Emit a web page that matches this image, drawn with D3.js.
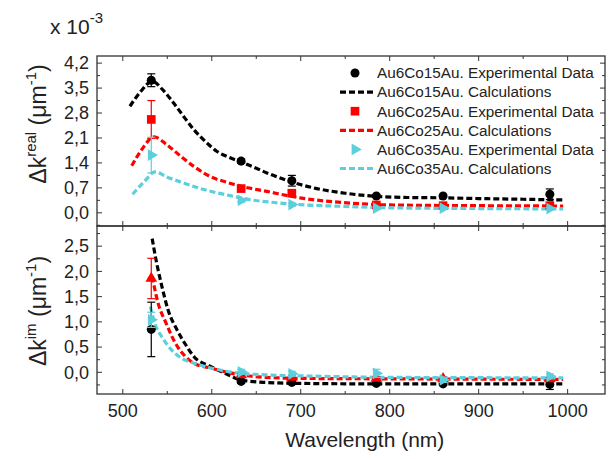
<!DOCTYPE html>
<html>
<head>
<meta charset="utf-8">
<script src="https://cdn.jsdelivr.net/npm/d3@7"></script>
<style>
  body { margin: 0; background: #fff; }
  svg text { font-family: "Liberation Sans", Arial, sans-serif; fill: #222; }
</style>
</head>
<body>
<div id="chart"></div>
<script>
// wavelengths of the measured points (nm)
const wlExp = [532, 633, 690, 785, 860, 980];

const names = ["Au6Co15Au", "Au6Co25Au", "Au6Co35Au"];
const colors = ["#000000", "#ff0000", "#5ccfdc"];

// top panel: delta k real (x 10^-3)
const realExp15 = [3.72, 1.45, 0.90, 0.47, 0.47, 0.52];
const realErr15 = [0.18, 0.06, 0.15, 0.04, 0.04, 0.15];
const realExp25 = [2.62, 0.68, 0.55, 0.22, 0.20, 0.20];
const realErr25 = [0.53, 0.05, 0.08, 0.03, 0.03, 0.03];
const realExp35 = [1.62, 0.35, 0.23, 0.13, 0.13, 0.12];
const realErr35 = [0.50, 0.05, 0.04, 0.03, 0.03, 0.03];

const realCalcWl15 = [508, 520, 533, 545, 555, 570, 580, 595, 606, 620, 633, 650, 662, 688, 718, 750, 785, 820, 860, 900, 950, 995];
const realCalc15   = [2.99, 3.40, 3.69, 3.45, 3.15, 2.65, 2.33, 1.95, 1.72, 1.55, 1.43, 1.25, 1.12, 0.88, 0.68, 0.55, 0.46, 0.43, 0.42, 0.40, 0.38, 0.36];
const realCalcWl25 = [510, 522, 535, 550, 565, 580, 598, 615, 632, 662, 699, 752, 800, 900, 995];
const realCalc25   = [1.32, 1.80, 2.13, 1.90, 1.59, 1.30, 1.02, 0.87, 0.75, 0.60, 0.42, 0.28, 0.22, 0.20, 0.19];
const realCalcWl35 = [511, 525, 536, 550, 568, 590, 606, 625, 643, 670, 699, 750, 800, 900, 995];
const realCalc35   = [0.52, 0.90, 1.15, 1.00, 0.84, 0.66, 0.56, 0.46, 0.37, 0.29, 0.23, 0.18, 0.14, 0.12, 0.11];

// bottom panel: delta k imaginary
const imExp15 = [0.85, -0.18, -0.20, -0.22, -0.23, -0.24];
const imErr15 = [0.54, 0.04, 0.03, 0.03, 0.03, 0.10];
const imExp25 = [1.86, -0.05, -0.10, -0.12, -0.13, -0.13];
const imErr25 = [0.40, 0.03, 0.03, 0.03, 0.03, 0.03];
const imExp35 = [1.04, 0.01, -0.03, -0.02, -0.15, -0.08];
const imErr35 = [0.15, 0.05, 0.05, 0.08, 0.05, 0.05];

const imCalcWl15 = [533, 538, 544, 551, 561, 572, 580, 598, 615, 632, 660, 700, 800, 995];
const imCalc15   = [2.65, 2.17, 1.70, 1.23, 0.84, 0.51, 0.31, 0.12, -0.02, -0.15, -0.20, -0.22, -0.23, -0.23];
const imCalcWl25 = [533, 540, 548, 560, 570, 581, 600, 615, 632, 660, 700, 800, 995];
const imCalc25   = [1.90, 1.35, 1.00, 0.55, 0.32, 0.17, 0.08, 0.01, -0.05, -0.10, -0.12, -0.13, -0.14];
const imCalcWl35 = [531, 536, 544, 555, 566, 580, 600, 632, 660, 700, 800, 995];
const imCalc35   = [1.30, 0.97, 0.70, 0.44, 0.28, 0.18, 0.08, -0.02, -0.05, -0.07, -0.10, -0.11];

const xTicks = [500, 600, 700, 800, 900, 1000];
const realTicks = [0, 0.7, 1.4, 2.1, 2.8, 3.5, 4.2];
const imTicks = [0, 0.5, 1.0, 1.5, 2.0, 2.5];

const W = 610, H = 459;
const left = 97, right = 605;
const topPanel = {y0: 56, y1: 226}, botPanel = {y0: 226, y1: 394};

const svg = d3.select("#chart").append("svg")
  .attr("width", W).attr("height", H);

const x = d3.scaleLinear().domain([471, 1042]).range([left, right]);
const yTop = d3.scaleLinear().domain([-0.37, 4.40]).range([topPanel.y1, topPanel.y0]);
const yBot = d3.scaleLinear().domain([-0.43, 2.90]).range([botPanel.y1, botPanel.y0]);

const fmt = v => d3.format(".1f")(v).replace(".", ",");

function panel(y, p, ticks, minorStep, showXLabels) {
  const g = svg.append("g");
  const minorY = d3.range(Math.ceil(y.domain()[0] / minorStep) * minorStep, y.domain()[1], minorStep);
  const minorX = d3.range(500, 1040, 50);

  // inward ticks on all four sides
  const tk = g.append("g").attr("stroke", "#333").attr("stroke-width", 1);
  minorX.forEach(v => {
    const len = v % 100 === 0 ? 5 : 3;
    tk.append("line").attr("x1", x(v)).attr("x2", x(v)).attr("y1", p.y1).attr("y2", p.y1 - len);
    tk.append("line").attr("x1", x(v)).attr("x2", x(v)).attr("y1", p.y0).attr("y2", p.y0 + len);
  });
  minorY.forEach(v => {
    const major = ticks.some(t => Math.abs(t - v) < 1e-6);
    const len = major ? 5 : 3;
    tk.append("line").attr("x1", left).attr("x2", left + len).attr("y1", y(v)).attr("y2", y(v));
    tk.append("line").attr("x1", right).attr("x2", right - len).attr("y1", y(v)).attr("y2", y(v));
  });

  g.selectAll(".ylab").data(ticks).enter().append("text")
    .attr("x", left - 8).attr("y", d => y(d)).attr("dy", "0.35em")
    .attr("text-anchor", "end").attr("font-size", 18)
    .text(fmt);

  if (showXLabels) {
    g.selectAll(".xlab").data(xTicks).enter().append("text")
      .attr("x", d => x(d)).attr("y", p.y1 + 23)
      .attr("text-anchor", "middle").attr("font-size", 18)
      .text(d => d);
  }

  g.append("rect").attr("x", left).attr("y", p.y0)
    .attr("width", right - left).attr("height", p.y1 - p.y0)
    .attr("fill", "none").attr("stroke", "#333").attr("stroke-width", 1.3);
  return g;
}

panel(yTop, topPanel, realTicks, 0.35, false);
panel(yBot, botPanel, imTicks, 0.25, true);

function curve(y, wl, vals, color) {
  const line = d3.line().x(d => x(d[0])).y(d => y(d[1])).curve(d3.curveMonotoneX);
  svg.append("path").datum(d3.zip(wl, vals))
    .attr("d", line).attr("fill", "none")
    .attr("stroke", color).attr("stroke-width", 3.2)
    .attr("stroke-dasharray", "6,3");
}

const symCircle = d3.symbol().type(d3.symbolCircle).size(64)();
const symSquare = d3.symbol().type(d3.symbolSquare).size(75)();
const symTri = d3.symbol().type(d3.symbolTriangle).size(60)();

function points(y, vals, errs, color, sym, rot) {
  const g = svg.append("g");
  const data = d3.zip(wlExp, vals, errs);
  data.forEach(d => {
    const cx = x(d[0]);
    g.append("line").attr("x1", cx).attr("x2", cx)
      .attr("y1", y(d[1] - d[2])).attr("y2", y(d[1] + d[2]))
      .attr("stroke", color).attr("stroke-width", 1.2);
    [d[1] - d[2], d[1] + d[2]].forEach(v => {
      g.append("line").attr("x1", cx - 4).attr("x2", cx + 4)
        .attr("y1", y(v)).attr("y2", y(v))
        .attr("stroke", color).attr("stroke-width", 1.2);
    });
  });
  g.selectAll("path").data(data).enter().append("path")
    .attr("d", sym)
    .attr("transform", d => `translate(${x(d[0])},${y(d[1])}) rotate(${rot || 0})`)
    .attr("fill", color);
}

// top panel
curve(yTop, realCalcWl15, realCalc15, colors[0]);
curve(yTop, realCalcWl25, realCalc25, colors[1]);
curve(yTop, realCalcWl35, realCalc35, colors[2]);
points(yTop, realExp15, realErr15, colors[0], symCircle);
points(yTop, realExp25, realErr25, colors[1], symSquare);
points(yTop, realExp35, realErr35, colors[2], symTri, 90);

// bottom panel
curve(yBot, imCalcWl15, imCalc15, colors[0]);
curve(yBot, imCalcWl25, imCalc25, colors[1]);
curve(yBot, imCalcWl35, imCalc35, colors[2]);
points(yBot, imExp15, imErr15, colors[0], symCircle);
points(yBot, imExp25, imErr25, colors[1], symTri);
points(yBot, imExp35, imErr35, colors[2], symTri, 90);

// legend
const legendRows = [];
names.forEach((n, i) => {
  legendRows.push({type: "exp", color: colors[i], label: n + ". Experimental Data", sym: [symCircle, symSquare, symTri][i], rot: i === 2 ? 90 : 0});
  legendRows.push({type: "calc", color: colors[i], label: n + ". Calculations"});
});
const leg = svg.append("g");
legendRows.forEach((r, i) => {
  const yy = 73 + i * 19.1;
  if (r.type === "exp") {
    leg.append("path").attr("d", r.sym)
      .attr("transform", `translate(355,${yy}) rotate(${r.rot})`).attr("fill", r.color);
  } else {
    leg.append("line").attr("x1", 340).attr("x2", 373).attr("y1", yy).attr("y2", yy)
      .attr("stroke", r.color).attr("stroke-width", 3.2).attr("stroke-dasharray", "6,3");
  }
  leg.append("text").attr("x", 377).attr("y", yy).attr("dy", "0.35em")
    .attr("font-size", 15.3).text(r.label);
});

// axis titles
function yTitle(cy, sup) {
  const t = svg.append("text")
    .attr("transform", `translate(46,${cy}) rotate(-90)`)
    .attr("text-anchor", "middle").attr("font-size", 23);
  t.append("tspan").text("Δk");
  t.append("tspan").attr("font-size", 15).attr("dy", -10).text(sup);
  t.append("tspan").attr("dy", 10).text(" (μm");
  t.append("tspan").attr("font-size", 15).attr("dy", -10).text("-1");
  t.append("tspan").attr("dy", 10).text(")");
}
yTitle(124, "real");
yTitle(311, "im");

const mult = svg.append("text").attr("x", 50).attr("y", 34).attr("font-size", 21);
mult.append("tspan").text("x 10");
mult.append("tspan").attr("font-size", 15).attr("dy", -11).text("-3");

svg.append("text").attr("x", x(772)).attr("y", 447)
  .attr("text-anchor", "middle").attr("font-size", 21)
  .text("Wavelength (nm)");
</script>
</body>
</html>
